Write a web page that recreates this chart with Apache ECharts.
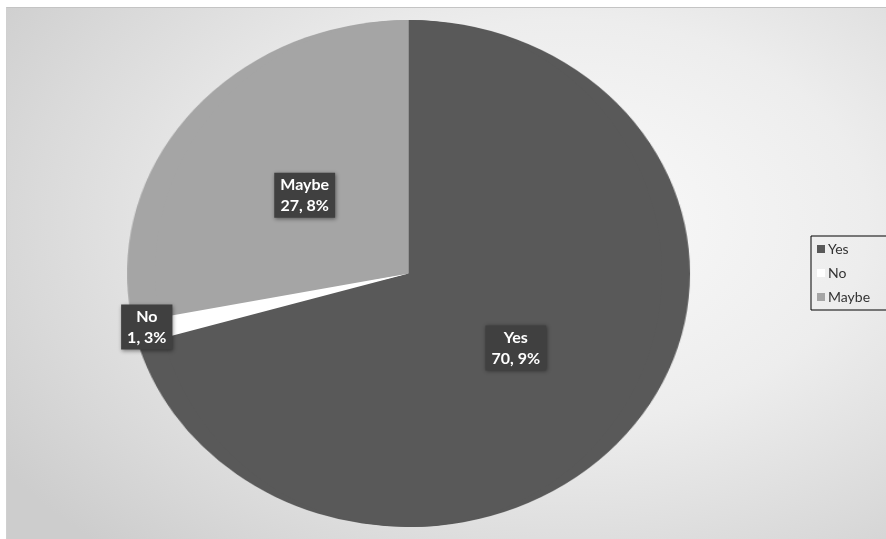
<!DOCTYPE html>
<html>
<head>
<meta charset="utf-8">
<script src="https://cdn.jsdelivr.net/npm/echarts@6/dist/echarts.min.js"></script>
<style>
  html, body { margin: 0; padding: 0; width: 886px; height: 539px; overflow: hidden; background: #ffffff; position: relative; }
  #frame { position: absolute; left: 6px; top: 7px; width: 900px; height: 560px; box-sizing: border-box;
    border-top: 1px solid #c4c4c4; border-left: 1px solid #d0d0d0;
    background: radial-gradient(ellipse 75% 80% at 62% 38%, #fafafa 0%, #ededed 45%, #d9d9d9 80%, #cdcdcd 100%); }
  #pie { position: absolute; left: 0; top: 0; width: 886px; height: 539px;
    transform-origin: 408.5px 273.5px; transform: scaleX(1.1105); }
  #top { position: absolute; left: 0; top: 0; width: 886px; height: 539px; }
</style>
</head>
<body>
<div id="frame"></div>
<div id="pie"></div>
<div id="top"></div>
<script>
const categories = ['Yes', 'No', 'Maybe'];
const percents = [70.9, 1.3, 27.8];
const colors = ['#595959', '#ffffff', '#a5a5a5'];

const center = [408.5, 273.5];
const radius = 253.5;
const stretch = 1.1105;

const pieData = categories.map((c, i) => ({ name: c, value: percents[i], itemStyle: { color: colors[i] } }));

const pieChart = echarts.init(document.getElementById('pie'), null, { renderer: 'canvas' });
pieChart.setOption({
  backgroundColor: 'transparent',
  animation: false,
  series: [{
    type: 'pie',
    center: center,
    radius: radius,
    startAngle: 90,
    clockwise: true,
    silent: true,
    label: { show: false },
    labelLine: { show: false },
    itemStyle: { borderWidth: 0 },
    data: pieData
  }]
});

const topChart = echarts.init(document.getElementById('top'), null, { renderer: 'canvas' });
topChart.setOption({
  backgroundColor: 'transparent',
  animation: false,
  legend: {
    orient: 'vertical',
    left: 811,
    top: 236,
    padding: [6, 30, 6, 6],
    itemGap: 10,
    itemWidth: 8,
    itemHeight: 8,
    icon: 'rect',
    borderColor: '#000000',
    borderWidth: 1,
    selectedMode: false,
    textStyle: { fontFamily: 'Lato', fontSize: 14, color: '#333333', padding: [0, 0, 0, -2] },
    data: categories.map((c, i) => ({ name: c, itemStyle: { color: colors[i], borderWidth: 0 } }))
  },
  series: [{
    type: 'pie',
    center: center,
    radius: radius,
    startAngle: 90,
    clockwise: true,
    silent: true,
    itemStyle: { color: 'rgba(0,0,0,0)', borderWidth: 0 },
    emphasis: { disabled: true },
    labelLine: { show: false },
    label: {
      show: true,
      position: 'inside',
      formatter: p => p.name + '\n' + String(p.value).replace('.', ', ') + '%',
      color: '#ffffff',
      fontFamily: 'Lato',
      fontWeight: 'bold',
      fontSize: 16,
      lineHeight: 21,
      align: 'center',
      backgroundColor: '#404040',
      padding: [2, 6, 1, 6],
      shadowBlur: 4,
      shadowColor: 'rgba(0,0,0,0.45)',
      shadowOffsetX: 1,
      shadowOffsetY: 1
    },
    labelLayout: function (p) {
      const r = p.labelRect;
      const cx = r.x + r.width / 2;
      const cy = r.y + r.height / 2;
      const ox = cx - center[0];
      const oy = cy - center[1];
      // small slice label sits near the rim, others near the middle of the slice
      const fx = percents[p.dataIndex] < 5 ? 1.86 : 0.94;
      const fy = percents[p.dataIndex] < 5 ? 1.92 : 0.94;
      return { dx: ox * (fx * stretch - 1), dy: oy * (fy - 1) };
    },
    data: pieData
  }]
});
</script>
</body>
</html>
